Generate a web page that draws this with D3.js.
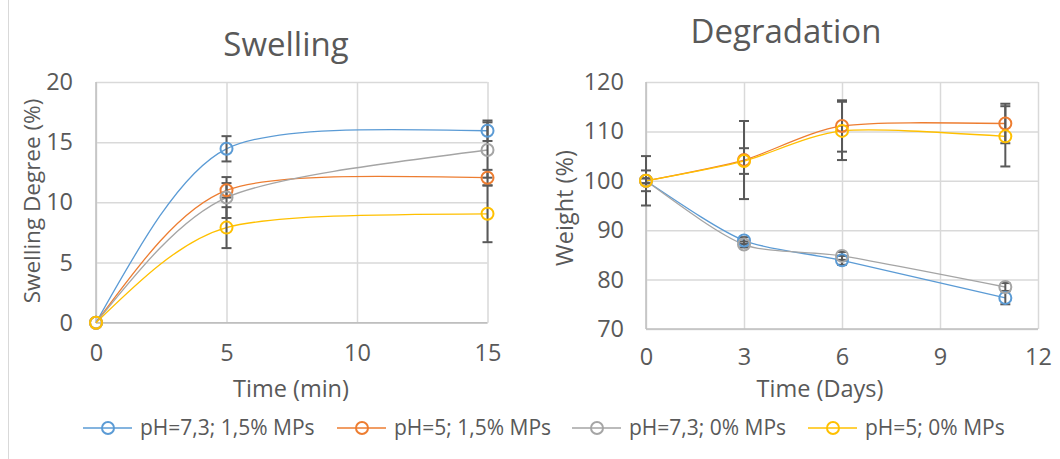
<!DOCTYPE html>
<html>
<head>
<meta charset="utf-8">
<script src="https://cdn.jsdelivr.net/npm/d3@7"></script>
<style>
  html, body { margin: 0; padding: 0; background: #fff; }
  svg { display: block; font-family: "Open Sans", "Noto Sans", sans-serif; }
</style>
</head>
<body>
<svg id="chart" width="1060" height="459"></svg>
<script>
// Series shared by both panels
const seriesNames = ["pH=7,3; 1,5% MPs", "pH=5; 1,5% MPs", "pH=7,3; 0% MPs", "pH=5; 0% MPs"];
const seriesColors = ["#5B9BD5", "#ED7D31", "#A5A5A5", "#FFC000"];

// Swelling: time in minutes
const swellTime = [0, 5, 15];
const swellBlue = [0, 14.45, 15.95];
const swellOrange = [0, 11.0, 12.05];
const swellGray = [0, 10.4, 14.35];
const swellYellow = [0, 7.9, 9.05];
const swellErrBlue = [0, 1.05, 0.85];
const swellErrOrange = [0, 0.6, 0.65];
const swellErrGray = [0, 1.7, 2.3];
const swellErrYellow = [0, 1.7, 2.36];
const swellYTicks = [0, 5, 10, 15, 20];
const swellXTicks = [0, 5, 10, 15];

// Degradation: time in days
const degTime = [0, 3, 6, 11];
const degBlue = [100, 87.9, 83.9, 76.3];
const degOrange = [100, 104.2, 111.1, 111.6];
const degGray = [100, 87.1, 84.8, 78.5];
const degYellow = [100, 104.0, 110.1, 109.0];
const degErrBlue = [0.5, 0.7, 0.9, 1.3];
const degErrOrange = [5.0, 7.9, 5.2, 4.0];
const degErrGray = [0.5, 0.6, 0.8, 0.8];
const degErrYellow = [2.1, 2.6, 5.9, 6.1];
const degYTicks = [70, 80, 90, 100, 110, 120];
const degXTicks = [0, 3, 6, 9, 12];

const svg = d3.select("#chart");
const textColor = "#595959";
const gridColor = "#D9D9D9";
const tickFont = 23.5;
const axisTitleFont = 23.5;
const titleFont = 33;

// Smoothed path through screen points: cardinal-style tangents inside,
// free (zero-curvature) end conditions at both ends.
function smoothPath(pts, tension) {
  const n = pts.length;
  const p = d3.path();
  if (n < 2) return "";
  const D = pts.map(() => [0, 0]);
  for (let i = 1; i < n - 1; i++) {
    D[i] = [(pts[i + 1][0] - pts[i - 1][0]) / 2 * (1 - tension),
            (pts[i + 1][1] - pts[i - 1][1]) / 2 * (1 - tension)];
  }
  if (n === 2) {
    D[0] = [pts[1][0] - pts[0][0], pts[1][1] - pts[0][1]];
    D[1] = D[0];
  } else {
    D[0] = [(3 * (pts[1][0] - pts[0][0]) - D[1][0]) / 2, (3 * (pts[1][1] - pts[0][1]) - D[1][1]) / 2];
    D[n - 1] = [(3 * (pts[n - 1][0] - pts[n - 2][0]) - D[n - 2][0]) / 2,
                (3 * (pts[n - 1][1] - pts[n - 2][1]) - D[n - 2][1]) / 2];
  }
  p.moveTo(pts[0][0], pts[0][1]);
  for (let i = 0; i < n - 1; i++) {
    p.bezierCurveTo(pts[i][0] + D[i][0] / 3, pts[i][1] + D[i][1] / 3,
                    pts[i + 1][0] - D[i + 1][0] / 3, pts[i + 1][1] - D[i + 1][1] / 3,
                    pts[i + 1][0], pts[i + 1][1]);
  }
  return p.toString();
}

// outer frame edge
svg.append("line").attr("x1", 8.5).attr("x2", 8.5).attr("y1", 0).attr("y2", 459)
  .attr("stroke", "#D9D9D9").attr("stroke-width", 1);

function panel(cfg) {
  const x = d3.scaleLinear().domain(cfg.xDomain).range([cfg.left, cfg.right]);
  const y = d3.scaleLinear().domain(cfg.yDomain).range([cfg.bottom, cfg.top]);
  const g = svg.append("g");

  // gridlines
  g.append("g").attr("transform", `translate(0,${cfg.bottom})`)
    .call(d3.axisBottom(x).tickValues(cfg.xTicks).tickSize(-(cfg.bottom - cfg.top)).tickFormat(""))
    .call(s => s.select(".domain").remove())
    .call(s => s.selectAll("line").attr("stroke", gridColor).attr("stroke-width", 1.5));
  g.append("g").attr("transform", `translate(${cfg.left},0)`)
    .call(d3.axisLeft(y).tickValues(cfg.yTicks).tickSize(-(cfg.right - cfg.left)).tickFormat(""))
    .call(s => s.select(".domain").remove())
    .call(s => s.selectAll("line").attr("stroke", gridColor).attr("stroke-width", 1.5));

  // axis lines
  g.append("line").attr("x1", cfg.left).attr("x2", cfg.left).attr("y1", cfg.top).attr("y2", cfg.bottom)
    .attr("stroke", "#BFBFBF").attr("stroke-width", 1.5);
  g.append("line").attr("x1", cfg.left).attr("x2", cfg.right).attr("y1", cfg.bottom).attr("y2", cfg.bottom)
    .attr("stroke", "#BFBFBF").attr("stroke-width", 1.5);

  // tick labels
  g.append("g").attr("transform", `translate(0,${cfg.xLabelY})`)
    .call(d3.axisBottom(x).tickValues(cfg.xTicks).tickSize(0).tickPadding(0))
    .call(s => s.select(".domain").remove())
    .call(s => s.selectAll("text").attr("fill", textColor).attr("font-size", tickFont)
      .attr("font-family", "'Open Sans', sans-serif").attr("dy", "0.35em"));
  g.append("g").attr("transform", `translate(${cfg.yLabelX},0)`)
    .call(d3.axisLeft(y).tickValues(cfg.yTicks).tickSize(0).tickPadding(0))
    .call(s => s.select(".domain").remove())
    .call(s => s.selectAll("text").attr("fill", textColor).attr("font-size", tickFont)
      .attr("font-family", "'Open Sans', sans-serif"));

  // titles
  g.append("text").attr("x", cfg.titleX).attr("y", cfg.titleY).attr("text-anchor", "middle")
    .attr("dy", "0.35em").attr("fill", textColor).attr("font-size", titleFont).text(cfg.title);
  g.append("text").attr("x", cfg.xTitleX).attr("y", cfg.xTitleY).attr("text-anchor", "middle")
    .attr("dy", "0.35em").attr("fill", textColor).attr("font-size", axisTitleFont).text(cfg.xTitle);
  g.append("text").attr("transform", `translate(${cfg.yTitleX},${cfg.yTitleY}) rotate(-90)`)
    .attr("text-anchor", "middle").attr("dy", "0.35em").attr("fill", textColor)
    .attr("font-size", cfg.yTitleFont || axisTitleFont).text(cfg.yTitle);

  const series = cfg.values.map((vals, i) => ({
    color: seriesColors[i],
    pts: cfg.xs.map((t, j) => ({ t, v: vals[j], e: cfg.errs[i][j] }))
  }));

  // smoothed series lines
  g.selectAll(".series").data(series).join("path")
    .attr("d", d => smoothPath(d.pts.map(p => [x(p.t), y(p.v)]), 0.3))
    .attr("fill", "none")
    .attr("stroke", d => d.color).attr("stroke-width", 1.3);

  // error bars
  const eb = g.append("g").attr("stroke", "#595959").attr("stroke-width", 2);
  series.forEach(s => {
    s.pts.filter(p => p.e > 0).forEach(p => {
      const cx = x(p.t), y1 = y(p.v + p.e), y2 = y(p.v - p.e);
      eb.append("line").attr("x1", cx).attr("x2", cx).attr("y1", y1).attr("y2", y2);
      eb.append("line").attr("x1", cx - 5).attr("x2", cx + 5).attr("y1", y1).attr("y2", y1);
      eb.append("line").attr("x1", cx - 5).attr("x2", cx + 5).attr("y1", y2).attr("y2", y2);
    });
  });

  // markers
  series.forEach(s => {
    g.append("g").selectAll("circle").data(s.pts).join("circle")
      .attr("cx", d => x(d.t)).attr("cy", d => y(d.v)).attr("r", 6)
      .attr("fill", "none").attr("stroke", s.color).attr("stroke-width", 2);
  });
}

panel({
  xDomain: [0, 15], yDomain: [0, 20], left: 96, right: 487.5, top: 82, bottom: 322.7,
  xTicks: swellXTicks, yTicks: swellYTicks, xLabelY: 353, yLabelX: 73,
  title: "Swelling", titleX: 286, titleY: 44,
  xTitle: "Time (min)", xTitleX: 291, xTitleY: 389,
  yTitle: "Swelling Degree (%)", yTitleX: 32, yTitleY: 201, yTitleFont: 22.5,
  xs: swellTime,
  values: [swellBlue, swellOrange, swellGray, swellYellow],
  errs: [swellErrBlue, swellErrOrange, swellErrGray, swellErrYellow]
});

panel({
  xDomain: [0, 12], yDomain: [70, 120], left: 646, right: 1038, top: 82, bottom: 329,
  xTicks: degXTicks, yTicks: degYTicks, xLabelY: 357, yLabelX: 624,
  title: "Degradation", titleX: 786, titleY: 31,
  xTitle: "Time (Days)", xTitleX: 820, xTitleY: 389,
  yTitle: "Weight (%)", yTitleX: 565, yTitleY: 208,
  xs: degTime,
  values: [degBlue, degOrange, degGray, degYellow],
  errs: [degErrBlue, degErrOrange, degErrGray, degErrYellow]
});

// legend
const legendX = [83, 337, 572, 808];
const legend = svg.append("g");
seriesNames.forEach((name, i) => {
  const lx = legendX[i], ly = 428;
  legend.append("line").attr("x1", lx).attr("x2", lx + 49).attr("y1", ly).attr("y2", ly)
    .attr("stroke", seriesColors[i]).attr("stroke-width", 1.3);
  legend.append("circle").attr("cx", lx + 25).attr("cy", ly).attr("r", 6)
    .attr("fill", "none").attr("stroke", seriesColors[i]).attr("stroke-width", 2);
  legend.append("text").attr("x", lx + 57).attr("y", ly).attr("dy", "0.35em")
    .attr("fill", textColor).attr("font-size", 21).text(name);
});
</script>
</body>
</html>
